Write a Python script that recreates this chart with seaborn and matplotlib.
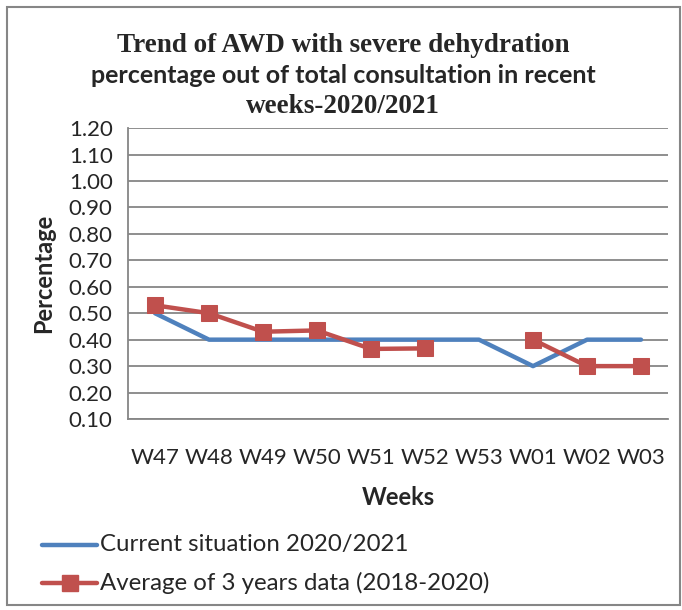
import numpy as np
import pandas as pd
import seaborn as sns
import matplotlib.pyplot as plt
from matplotlib.patches import Rectangle

weeks = ["W47", "W48", "W49", "W50", "W51", "W52", "W53", "W01", "W02", "W03"]
current = [0.50, 0.40, 0.40, 0.40, 0.40, 0.40, 0.40, 0.30, 0.40, 0.40]
average = [0.53, 0.50, 0.43, 0.435, 0.365, 0.367, np.nan, 0.40, 0.30, 0.30]

blue = "#4F81BD"
red = "#C0504D"
grid_col = "#868686"

sns.set_style("white")
plt.rcParams["font.family"] = ["Lato", "DejaVu Sans"]

pos = np.arange(len(weeks))
df_cur = pd.DataFrame({"x": pos, "y": current})
# split the average series where it has a gap (W53)
seg = np.cumsum(np.isnan(average))
df_avg = pd.DataFrame({"x": pos, "y": average, "seg": seg}).dropna()

fig = plt.figure(figsize=(6.82, 6.10), dpi=100)
ax = fig.add_axes([0.1877, 0.3131, 0.7918, 0.4769])

sns.lineplot(data=df_cur, x="x", y="y", color=blue, linewidth=3.2, ax=ax,
             solid_capstyle="round")
sns.lineplot(data=df_avg, x="x", y="y", units="seg", estimator=None, color=red,
             linewidth=3.2, marker="s", markersize=12, markeredgecolor=red, ax=ax)

ax.set_xlim(-0.5, len(weeks) - 0.5)
ax.set_ylim(0.10, 1.20)
yt = np.arange(0.10, 1.201, 0.10)
ax.set_yticks(yt)
ax.set_yticklabels([f"{v:.2f}" for v in yt], fontsize=16)
ax.set_xticks(pos)
ax.set_xticklabels(weeks, fontsize=16)
ax.set_xticks(np.arange(-0.5, len(weeks), 1.0), minor=True)
ax.tick_params(axis="x", which="major", length=0, pad=21)
ax.tick_params(axis="x", which="minor", length=6, color=grid_col, width=1.3)
ax.tick_params(axis="y", length=7, color=grid_col, width=1.3, pad=4)

ax.grid(axis="y", color=grid_col, linewidth=1.3)
for s in ["top", "right"]:
    ax.spines[s].set_visible(False)
for s in ["left", "bottom"]:
    ax.spines[s].set_color(grid_col)
    ax.spines[s].set_linewidth(1.3)

ax.set_xlabel("Weeks", fontsize=17, fontweight="bold", labelpad=13)
ax.set_ylabel("Percentage", fontsize=17, fontweight="bold", labelpad=10)

# title in three lines with mixed fonts
fig.text(0.503, 0.925, "Trend of AWD with severe dehydration", ha="center", va="center",
         fontsize=19.5, fontweight="bold", family=["Liberation Serif"])
fig.text(0.503, 0.876, "percentage out of total consultation in recent", ha="center",
         va="center", fontsize=18, fontweight="bold", family=["Lato", "DejaVu Sans"])
fig.text(0.503, 0.826, "weeks-2020/2021", ha="center", va="center",
         fontsize=19.5, fontweight="bold", family=["Liberation Serif"])

# legend drawn at the bottom
lx0, lx1 = 42 / 682, 97 / 682
y1, y2 = 1 - 545 / 610, 1 - 583 / 610
fig.lines.append(plt.Line2D([lx0, lx1], [y1, y1], transform=fig.transFigure,
                            color=blue, linewidth=3.2, solid_capstyle="round"))
fig.lines.append(plt.Line2D([lx0, lx1], [y2, y2], transform=fig.transFigure,
                            color=red, linewidth=3.2))
fig.lines.append(plt.Line2D([(lx0 + lx1) / 2], [y2], transform=fig.transFigure,
                            color=red, marker="s", markersize=12, linestyle="none"))
fig.text(100 / 682, y1, "Current situation 2020/2021", va="center", fontsize=17.3)
fig.text(100 / 682, y2, "Average of 3 years data (2018-2020)", va="center", fontsize=17.3)

# outer frame
fig.patches.append(Rectangle((7 / 682, 5 / 610), 673 / 682, 598 / 610,
                             transform=fig.transFigure, fill=False,
                             edgecolor=grid_col, linewidth=1.5))

fig.savefig("out.png", dpi=100)
